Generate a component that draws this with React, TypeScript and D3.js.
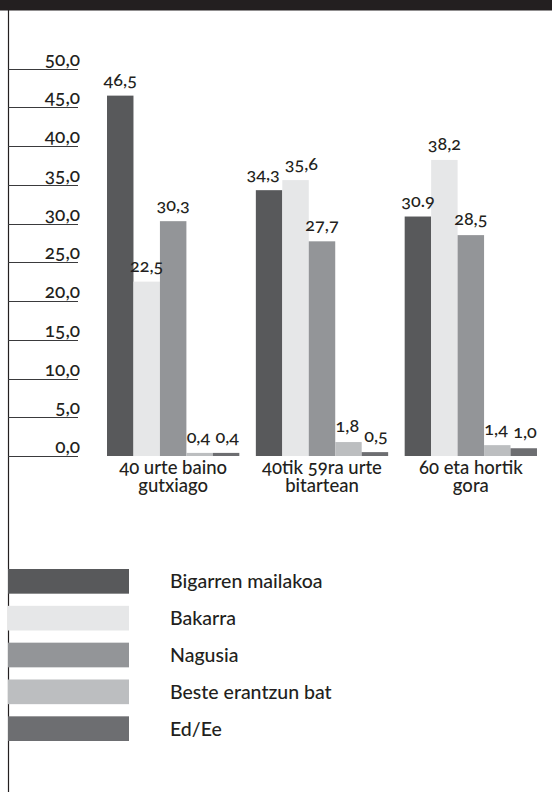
import React, { useRef, useEffect } from 'react';
import * as d3 from 'd3';

// chart values
const categories = ['40 urte baino gutxiago', '40tik 59ra urte bitartean', '60 eta hortik gora'];
const categoryLines = [['40 urte baino', 'gutxiago'], ['40tik 59ra urte', 'bitartean'], ['60 eta hortik', 'gora']];
const seriesNames = ['Bigarren mailakoa', 'Bakarra', 'Nagusia', 'Beste erantzun bat', 'Ed/Ee'];
const seriesColors = ['#58595b', '#e6e7e8', '#939598', '#bcbec0', '#6d6e71'];
const bigarren = [46.5, 34.3, 30.9];
const bakarra = [22.5, 35.6, 38.2];
const nagusia = [30.3, 27.7, 28.5];
const beste = [0.4, 1.8, 1.4];
const edEe = [0.4, 0.5, 1.0];
const valueLabels = [
  ['46,5', '34,3', '30.9'],
  ['22,5', '35,6', '38,2'],
  ['30,3', '27,7', '28,5'],
  ['0,4', '1,8', '1,4'],
  ['0,4', '0,5', '1,0'],
];
const yTicks = [0, 5, 10, 15, 20, 25, 30, 35, 40, 45, 50];

const FONT = 'Lato, "Open Sans", sans-serif';
const INK = '#231f20';

const App = () => {
  const ref = useRef<SVGSVGElement>(null);
  const width = 552;
  const height = 792;

  useEffect(() => {
    const svg = d3.select(ref.current);
    svg.selectAll('*').remove();

    const series = [bigarren, bakarra, nagusia, beste, edEe];

    const y = d3.scaleLinear().domain([0, 50]).range([456, 68.5]);

    const x0 = d3.scaleBand()
      .domain(categories)
      .range([98.75, 545.25])
      .paddingInner(0.111)
      .paddingOuter(0.0555);

    const x1 = d3.scaleBand()
      .domain(seriesNames)
      .range([0, x0.bandwidth()]);

    const txt = (sel, size) => sel
      .style('font-family', FONT)
      .style('font-size', size)
      .style('font-weight', 500)
      .style('font-variant-numeric', 'oldstyle-nums')
      .attr('fill', INK);

    // header band and left rule
    svg.append('rect')
      .attr('x', 0).attr('y', 0)
      .attr('width', width).attr('height', 10.5)
      .attr('fill', INK);
    svg.append('line')
      .attr('x1', 8.5).attr('x2', 8.5)
      .attr('y1', 10).attr('y2', height)
      .attr('stroke', INK).attr('stroke-width', 1.2);

    // short gridlines with labels above them
    const ticks = svg.append('g');
    ticks.selectAll('line')
      .data(yTicks)
      .join('line')
      .attr('x1', 8).attr('x2', 78)
      .attr('y1', d => Math.round(y(d)) + 0.5)
      .attr('y2', d => Math.round(y(d)) + 0.5)
      .attr('stroke', '#3a3a3c')
      .attr('stroke-width', 1.2);
    ticks.selectAll('text')
      .data(yTicks)
      .join('text')
      .attr('x', 80)
      .attr('y', d => y(d) - 3)
      .attr('text-anchor', 'end')
      .call(txt, '19px')
      .text(d => d3.format('.1f')(d).replace('.', ','));

    // bars
    const groups = svg.append('g')
      .selectAll('g')
      .data(categories)
      .join('g')
      .attr('transform', d => `translate(${x0(d)},0)`);

    groups.selectAll('rect')
      .data((d, ci) => series.map((s, si) => ({ si, v: s[ci] })))
      .join('rect')
      .attr('x', d => x1(seriesNames[d.si]))
      .attr('y', d => y(d.v))
      .attr('width', x1.bandwidth())
      .attr('height', d => y(0) - y(d.v))
      .attr('fill', d => seriesColors[d.si]);

    groups.selectAll('text.value')
      .data((d, ci) => series.map((s, si) => ({ si, v: s[ci], label: valueLabels[si][ci] })))
      .join('text')
      .attr('class', 'value')
      .attr('x', d => x1(seriesNames[d.si]) + x1.bandwidth() / 2)
      .attr('y', d => y(d.v) - 10)
      .attr('text-anchor', 'middle')
      .call(txt, '18px')
      .text(d => d.label);

    // push neighbouring value labels apart where they collide (as the print original does)
    groups.each(function () {
      const labels = d3.select(this).selectAll('text.value').nodes() as SVGTextElement[];
      for (let i = 1; i < labels.length; i++) {
        const a = labels[i - 1].getBBox();
        const b = labels[i].getBBox();
        const sameRow = a.y < b.y + b.height - 4 && b.y < a.y + a.height - 4;
        const overlap = a.x + a.width + 5 - b.x;
        if (sameRow && overlap > 0) {
          const ax = +labels[i - 1].getAttribute('x');
          const bx = +labels[i].getAttribute('x');
          labels[i - 1].setAttribute('x', String(ax - overlap / 2));
          labels[i].setAttribute('x', String(bx + overlap / 2));
        }
      }
    });

    // category labels, two tightly set lines each
    groups.selectAll('text.cat')
      .data((d, i) => categoryLines[i])
      .join('text')
      .attr('class', 'cat')
      .attr('x', x0.bandwidth() / 2)
      .attr('y', (d, i) => 474 + i * 17.5)
      .attr('text-anchor', 'middle')
      .call(txt, '18.5px')
      .text(d => d);

    // legend
    const legendY = d3.scaleBand()
      .domain(seriesNames)
      .range([569, 741])
      .paddingInner(0.33);

    const legend = svg.append('g');
    legend.selectAll('rect')
      .data(seriesNames)
      .join('rect')
      .attr('x', 8)
      .attr('y', d => legendY(d))
      .attr('width', 121)
      .attr('height', legendY.bandwidth())
      .attr('fill', (d, i) => seriesColors[i]);
    legend.selectAll('text')
      .data(seriesNames)
      .join('text')
      .attr('x', 170)
      .attr('y', d => legendY(d) + legendY.bandwidth() / 2 + 7)
      .call(txt, '19.5px')
      .text(d => d);
  }, []);

  return (
    <svg
      ref={ref}
      width={width}
      height={height}
      style={{ position: 'absolute', left: 0, top: 0, background: '#fff' }}
    />
  );
};

export default App;
